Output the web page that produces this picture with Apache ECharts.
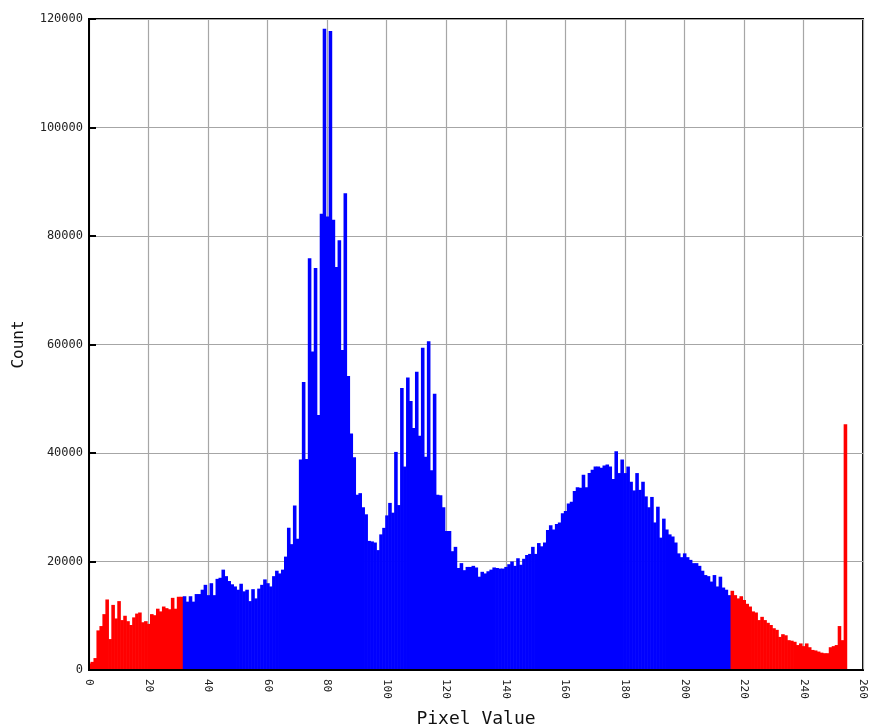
<!DOCTYPE html>
<html>
<head>
<meta charset="utf-8">
<title>Pixel Value Histogram</title>
<script src="https://cdn.jsdelivr.net/npm/echarts@6/dist/echarts.min.js"></script>
<style>
  html, body { margin: 0; padding: 0; background: #ffffff; }
  #chart { width: 869px; height: 728px; }
</style>
</head>
<body>
<div id="chart"></div>
<script>
// Histogram counts, one value per pixel level.
// Levels 0-31 and 216-255 fall outside the selected range and are drawn in red.
const lowTail = [
  1200, 1500, 2200, 7300, 8100, 10300, 13000, 5700, 12000, 9500,
  12700, 9200, 10000, 9000, 8300, 9700, 10400, 10600, 8800, 9000,
  8500, 10300, 10100, 11300, 10800, 11700, 11400, 11200, 13300, 11300,
  13500, 13500
];

// Levels 32-215 (selected range, blue)
const midRange = [
  13600, 12600, 13600, 12600, 14000, 14000, 14800, 15700, 13800, 16000,
  13800, 16800, 17000, 18500, 17300, 16400, 15800, 15400, 14800, 15900,
  14500, 14800, 12700, 14900, 13200, 15000, 15700, 16700, 16000, 15400,
  17300, 18300, 17800, 18500, 20900,
  26200, 23200, 30300, 24200, 38800, 53100, 38900, 75900, 58700, 74100,
  47000, 84100, 118200, 83600, 117800, 83000, 74300, 79200, 59000, 87900,
  54200, 43600, 39200, 32300, 32600, 30000, 28700, 23800, 23700, 23500,
  22100, 25000, 26200, 28500, 30800, 29000, 40200, 30400, 52000, 37500,
  53900, 49600, 44600, 55000, 43200, 59400, 39300, 60600, 36800, 50900,
  32300, 32200, 30000, 25600, 25600, 21900, 22700, 18800, 19700, 18400,
  19000, 19000, 19200, 18900, 17200,
  18100, 17800, 18200, 18500, 18900, 18800, 18700, 18700, 19000, 19500,
  20000, 19200, 20600, 19400, 20500, 21200, 21400, 22700, 21400, 23400,
  22800, 23500, 25800, 26700, 25900, 26900, 27200, 28900, 29300, 30700,
  31000, 33000, 33700, 33600, 36000, 33700, 36300, 36900, 37500, 37500,
  37300, 37700, 37900, 37500, 35200, 40300, 36300, 38800, 36300, 37500,
  34700, 33100, 36300, 33200, 34700, 32000, 30000, 31900, 27200, 30100,
  24400, 27900, 25900, 25000, 24600, 23500, 21500,
  20800, 21500, 20800, 20300, 19700, 19700, 19200, 18300, 17500, 17300,
  16300, 17500, 15400, 17200, 15200, 14800, 13800
];

// Levels 216-255 (red)
const highTail = [
  14600, 13800, 13200, 13600, 12900, 12200, 11700, 10800, 10600, 9200,
  9800, 9200, 8700, 8300, 7700, 7400, 6100, 6600, 6400, 5500,
  5400, 5200, 4600, 4900, 4400, 4900, 4200, 3700, 3600, 3400,
  3200, 3100, 3100, 4200, 4400, 4600, 8100, 5500, 45300, 0
];

// Axis ranges
const xRange = { min: 0, max: 260, step: 20 };
const yRange = { min: 0, max: 120000, step: 20000 };

const lowStart = 0;
const midStart = lowTail.length;
const highStart = lowTail.length + midRange.length;

function toPairs(values, start) {
  return values.map(function (v, i) { return [start + i, v]; });
}

// Each bin is a rectangle one level wide, centred on its level.
function renderBin(params, api) {
  const level = api.value(0);
  const count = api.value(1);
  const topLeft = api.coord([level - 0.5, count]);
  const bottomRight = api.coord([level + 0.5, 0]);
  const cs = params.coordSys;
  const shape = echarts.graphic.clipRectByRect(
    {
      x: topLeft[0],
      y: topLeft[1],
      width: bottomRight[0] - topLeft[0] + 0.6,
      height: bottomRight[1] - topLeft[1]
    },
    { x: cs.x, y: cs.y, width: cs.width, height: cs.height }
  );
  return shape && {
    type: 'rect',
    shape: shape,
    style: { fill: api.visual('color') }
  };
}

const monoFont = '"DejaVu Sans Mono", "Liberation Mono", monospace';

const chart = echarts.init(document.getElementById('chart'), null, { renderer: 'canvas' });

chart.setOption({
  animation: false,
  backgroundColor: '#ffffff',
  grid: {
    left: 89, right: 6, top: 19, bottom: 58,
    containLabel: false,
    outerBoundsMode: 'none',
    show: true,
    borderColor: '#000000',
    borderWidth: 2,
    backgroundColor: 'transparent'
  },
  xAxis: [
    {
      type: 'value',
      min: xRange.min, max: xRange.max, interval: xRange.step,
      position: 'bottom',
      z: 10,
      name: 'Pixel Value',
      nameLocation: 'middle',
      nameGap: 40,
      nameTextStyle: { fontFamily: monoFont, fontSize: 18, color: '#111111' },
      axisLine: { show: true, lineStyle: { color: '#000000', width: 2 } },
      axisTick: { show: false },
      axisLabel: {
        rotate: -90,
        margin: 9,
        fontFamily: monoFont,
        fontSize: 11,
        color: '#222222',
        formatter: function (v) { return String(v); }
      },
      splitLine: { show: false }
    },
    {
      type: 'value',
      min: xRange.min, max: xRange.max, interval: xRange.step,
      position: 'bottom',
      z: 0,
      axisLine: { show: false },
      axisTick: { show: false },
      axisLabel: { show: false },
      splitLine: { show: true, lineStyle: { color: '#a6a6a6', width: 1.2 } }
    }
  ],
  yAxis: [
    {
      type: 'value',
      min: yRange.min, max: yRange.max, interval: yRange.step,
      position: 'left',
      z: 10,
      name: 'Count',
      nameLocation: 'middle',
      nameGap: 62,
      nameRotate: 90,
      nameTextStyle: { fontFamily: monoFont, fontSize: 16, color: '#111111' },
      axisLine: { show: true, lineStyle: { color: '#000000', width: 2 } },
      axisTick: { show: true, inside: true, length: 7, lineStyle: { color: '#000000', width: 2 } },
      axisLabel: {
        margin: 6,
        fontFamily: monoFont,
        fontSize: 12,
        color: '#222222',
        formatter: function (v) { return String(v); }
      },
      splitLine: { show: false }
    },
    {
      type: 'value',
      min: yRange.min, max: yRange.max, interval: yRange.step,
      position: 'left',
      z: 0,
      axisLine: { show: false },
      axisTick: { show: false },
      axisLabel: { show: false },
      splitLine: { show: true, lineStyle: { color: '#a6a6a6', width: 1.2 } }
    }
  ],
  series: [
    {
      name: 'below range',
      type: 'custom',
      xAxisIndex: 0, yAxisIndex: 0,
      renderItem: renderBin,
      encode: { x: 0, y: 1 },
      itemStyle: { color: '#ff0000' },
      data: toPairs(lowTail, lowStart),
      z: 2
    },
    {
      name: 'in range',
      type: 'custom',
      xAxisIndex: 0, yAxisIndex: 0,
      renderItem: renderBin,
      encode: { x: 0, y: 1 },
      itemStyle: { color: '#0000ff' },
      data: toPairs(midRange, midStart),
      z: 2
    },
    {
      name: 'above range',
      type: 'custom',
      xAxisIndex: 0, yAxisIndex: 0,
      renderItem: renderBin,
      encode: { x: 0, y: 1 },
      itemStyle: { color: '#ff0000' },
      data: toPairs(highTail, highStart),
      z: 2
    }
  ]
});
</script>
</body>
</html>
